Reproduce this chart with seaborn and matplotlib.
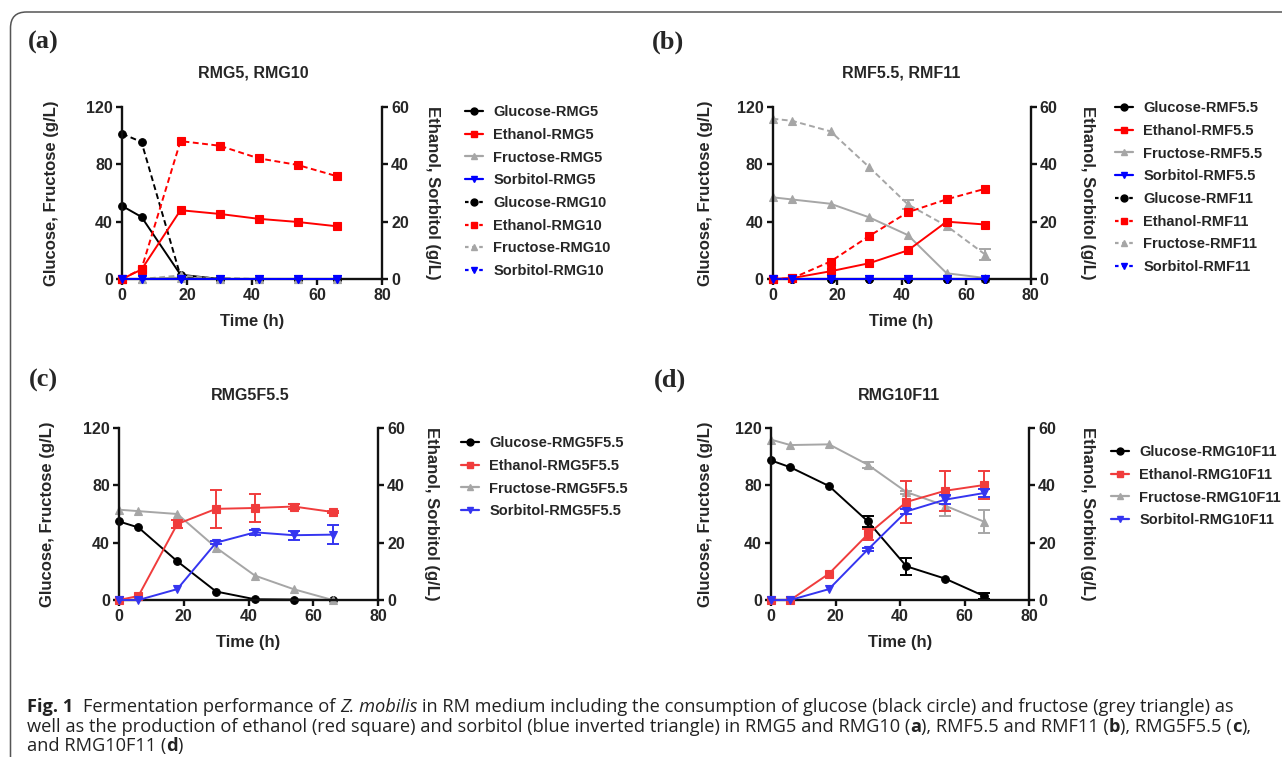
import matplotlib
matplotlib.use("Agg")
import matplotlib.pyplot as plt
import seaborn as sns
import numpy as np
from matplotlib.patches import FancyBboxPatch
from matplotlib.lines import Line2D
from matplotlib.transforms import IdentityTransform

# ---------------- data ----------------
time_h = [0, 6, 18, 30, 42, 54, 66]

# (a) RMG5, RMG10
glucose_rmg5 = [51, 43.3, 3.0, 0, 0, 0, 0]
ethanol_rmg5 = [0, 3.3, 24.0, 22.7, 21.0, 19.9, 18.4]
fructose_rmg5 = [0, 0, 1.0, 0, 0, 0, 0]
sorbitol_rmg5 = [0, 0, 0, 0, 0, 0, 0]
glucose_rmg10 = [101.4, 95.6, 2.0, 0.3, 0, 0, 0]
ethanol_rmg10 = [0, 3.5, 48.1, 46.5, 42.1, 39.8, 35.9]
fructose_rmg10 = [0, 0, 2.5, 0, 0, 0, 0]
sorbitol_rmg10 = [0, 0, 0, 0, 0, 0, 0]

# (b) RMF5.5, RMF11
glucose_rmf55 = [0, 0, 0, 0, 0, 0, 0]
ethanol_rmf55 = [0, 0.3, 2.7, 5.5, 10.0, 20.0, 19.0]
fructose_rmf55 = [57, 55.5, 52.5, 43, 30.6, 4, 0.7]
sorbitol_rmf55 = [0, 0, 0, 0, 0, 0, 0]
glucose_rmf11 = [0, 0, 0, 0, 0, 0, 0]
ethanol_rmf11 = [0, 0.2, 6.1, 15.0, 23.3, 27.8, 31.5]
fructose_rmf11 = [111.8, 110.4, 103, 78, 52, 37, 17]
fructose_rmf11_err = [0, 0, 0, 0, 3, 0, 4]
sorbitol_rmf11 = [0, 0, 0, 0, 0, 0, 0]

# (c) RMG5F5.5
glucose_c = [54.8, 50.6, 27, 5.9, 0.5, 0.3, 0]
ethanol_c = [0, 1.4, 26.5, 31.8, 32.1, 32.6, 30.7]
ethanol_c_err = [0, 0, 1.5, 6.7, 5.0, 1.0, 0.5]
fructose_c = [63, 62, 60, 36.5, 17, 7.5, 0]
sorbitol_c = [0, 0, 3.8, 20, 23.6, 22.6, 22.8]
sorbitol_c_err = [0, 0, 0, 0.5, 0.8, 1.6, 3.3]

# (d) RMG10F11
glucose_d = [97.4, 92.6, 79.5, 54.9, 23.5, 14.9, 2.8]
glucose_d_err = [0, 0, 0, 4.0, 5.8, 0, 2.0]
fructose_d = [111.9, 108.1, 108.6, 94.4, 75.3, 65.8, 54.7]
fructose_d_err = [0, 0, 0, 2.0, 1.0, 6.9, 8.1]
ethanol_d = [0, 0, 9.2, 22.9, 34.2, 38.1, 40.1]
ethanol_d_err = [0, 0, 0, 2.0, 7.4, 7.0, 4.8]
sorbitol_d = [0, 0, 3.8, 17.6, 30.9, 35.0, 37.3]
sorbitol_d_err = [0, 0, 0, 0.5, 1.0, 1.5, 1.5]

titles = ["RMG5, RMG10", "RMF5.5, RMF11", "RMG5F5.5", "RMG10F11"]
panel_tags = ["(a)", "(b)", "(c)", "(d)"]
left_label = "Glucose, Fructose (g/L)"
right_label = "Ethanol, Sorbitol (g/L)"
x_label = "Time (h)"
x_ticks = [0, 20, 40, 60, 80]
left_ticks = [0, 40, 80, 120]
right_ticks = [0, 20, 40, 60]

# ---------------- style ----------------
sns.set_theme(style="ticks")
plt.rcParams["font.family"] = ["Liberation Sans", "DejaVu Sans"]
plt.rcParams["font.weight"] = "bold"
plt.rcParams["axes.labelweight"] = "bold"

W, H = 1282, 757
fig = plt.figure(figsize=(W / 100, H / 100), dpi=100)
fig.patch.set_facecolor("white")

BLACK, GREY = "#000000", "#a6a6a6"
RED_AB, BLUE_AB = "#ff0000", "#0000ff"
RED_CD, BLUE_CD = "#f03c3c", "#3535f0"
DASH = (0, (3.0, 1.8))
LEG_DASH = (0, (1.6, 1.6))


def px_axes(left, top, right, bottom):
    return fig.add_axes([left / W, 1 - bottom / H, (right - left) / W, (bottom - top) / H])


def style_axes(ax, ax2, lab_l, lab_r):
    ax.set_xlim(0, 80)
    ax.set_ylim(0, 120)
    ax2.set_ylim(0, 60)
    ax.set_xticks(x_ticks)
    ax.set_yticks(left_ticks)
    ax2.set_yticks(right_ticks)
    for s in ["top", "right"]:
        ax.spines[s].set_visible(False)
    for s in ["top", "left", "bottom"]:
        ax2.spines[s].set_visible(False)
    for a in (ax, ax2):
        for sp in a.spines.values():
            sp.set_linewidth(1.7)
            sp.set_color("#111111")
        a.tick_params(axis="both", width=1.7, length=4.5, labelsize=11.5,
                      color="#111111", pad=2)
        for lbl in a.get_xticklabels() + a.get_yticklabels():
            lbl.set_fontweight("bold")
    ax2.tick_params(axis="x", bottom=False, labelbottom=False)
    ax.set_xlabel(x_label, fontsize=12, fontweight="bold")
    ax.xaxis.set_label_coords(0.5, -0.205)
    ax.set_ylabel(left_label, fontsize=12, fontweight="bold")
    ax.yaxis.set_label_coords(lab_l, 0.5)
    ax2.set_ylabel(right_label, fontsize=12, fontweight="bold", rotation=270, va="center")
    ax2.yaxis.set_label_coords(lab_r, 0.5)
    ax.set_facecolor("none")
    ax2.set_facecolor("none")


def series(ax, y, color, marker, ms, ls, label, err=None):
    sns.lineplot(x=time_h, y=y, ax=ax, color=color, marker=marker, markersize=ms,
                 markeredgecolor=color, markeredgewidth=0.8, linewidth=1.4,
                 linestyle=ls, legend=False, errorbar=None)
    line = ax.lines[-1]
    line.set_linestyle(ls)
    line.set_clip_on(False)
    line.set_label(label)
    if err is not None:
        xs = [t for t, e in zip(time_h, err) if e > 0]
        ys = [v for v, e in zip(y, err) if e > 0]
        es = [e for e in err if e > 0]
        ax.errorbar(xs, ys, yerr=es, fmt="none", ecolor=color, elinewidth=1.4,
                    capsize=4, capthick=1.4, clip_on=False)
    return line


def legend_at(lines, x_px, y_top_px):
    proxies = []
    for ln in lines:
        ls = ln.get_linestyle()
        dashed = ls not in ("-", "solid")
        proxies.append(Line2D([], [], color=ln.get_color(), marker=ln.get_marker(),
                              markersize=5.0, markeredgecolor=ln.get_color(),
                              linewidth=1.6, linestyle=LEG_DASH if dashed else "-",
                              label=ln.get_label()))
    leg = fig.legend(handles=proxies, loc="upper left",
                     bbox_to_anchor=(x_px / W, 1 - y_top_px / H),
                     bbox_transform=fig.transFigure, frameon=False,
                     prop={"weight": "bold", "size": 10.5}, handlelength=1.25,
                     handletextpad=0.7, labelspacing=0.6, borderpad=0,
                     borderaxespad=0, numpoints=1)
    return leg


def text_px(x, y, s, **kw):
    return fig.text(x / W, 1 - y / H, s, **kw)


# ---------------- panel a ----------------
ax = px_axes(122, 107, 382, 279)
ax2 = ax.twinx()
h = []
h.append(series(ax, glucose_rmg5, BLACK, "o", 5.5, "-", "Glucose-RMG5"))
h.append(series(ax2, ethanol_rmg5, RED_AB, "s", 5.5, "-", "Ethanol-RMG5"))
h.append(series(ax, fructose_rmg5, GREY, "^", 5.5, "-", "Fructose-RMG5"))
h.append(series(ax2, sorbitol_rmg5, BLUE_AB, "v", 5.5, "-", "Sorbitol-RMG5"))
h.append(series(ax, glucose_rmg10, BLACK, "o", 5.5, DASH, "Glucose-RMG10"))
h.append(series(ax2, ethanol_rmg10, RED_AB, "s", 5.5, DASH, "Ethanol-RMG10"))
h.append(series(ax, fructose_rmg10, GREY, "^", 5.5, DASH, "Fructose-RMG10"))
h.append(series(ax2, sorbitol_rmg10, BLUE_AB, "v", 5.5, DASH, "Sorbitol-RMG10"))
style_axes(ax, ax2, -0.242, 1.196)
legend_at(h, 465, 105)
text_px(253, 73, titles[0], ha="center", va="center", fontsize=11.5, fontweight="bold")

# ---------------- panel b ----------------
ax = px_axes(772.5, 107, 1030.5, 279)
ax2 = ax.twinx()
h = []
h.append(series(ax, glucose_rmf55, BLACK, "o", 5.5, "-", "Glucose-RMF5.5"))
h.append(series(ax2, ethanol_rmf55, RED_AB, "s", 5.5, "-", "Ethanol-RMF5.5"))
h.append(series(ax, fructose_rmf55, GREY, "^", 5.5, "-", "Fructose-RMF5.5"))
h.append(series(ax2, sorbitol_rmf55, BLUE_AB, "v", 5.5, "-", "Sorbitol-RMF5.5"))
h.append(series(ax, glucose_rmf11, BLACK, "o", 5.5, DASH, "Glucose-RMF11"))
h.append(series(ax2, ethanol_rmf11, RED_AB, "s", 5.5, DASH, "Ethanol-RMF11"))
h.append(series(ax, fructose_rmf11, GREY, "^", 5.5, DASH, "Fructose-RMF11", fructose_rmf11_err))
h.append(series(ax2, sorbitol_rmf11, BLUE_AB, "v", 5.5, DASH, "Sorbitol-RMF11"))
style_axes(ax, ax2, -0.231, 1.219)
legend_at(h, 1115, 101)
text_px(901, 73, titles[1], ha="center", va="center", fontsize=11.5, fontweight="bold")

# ---------------- panel c ----------------
ax = px_axes(119, 428, 378, 600)
ax2 = ax.twinx()
h = []
h.append(series(ax, glucose_c, BLACK, "o", 5.5, "-", "Glucose-RMG5F5.5"))
h.append(series(ax2, ethanol_c, RED_CD, "s", 5.5, "-", "Ethanol-RMG5F5.5", ethanol_c_err))
h.append(series(ax, fructose_c, GREY, "^", 5.5, "-", "Fructose-RMG5F5.5"))
h.append(series(ax2, sorbitol_c, BLUE_CD, "v", 5.5, "-", "Sorbitol-RMG5F5.5", sorbitol_c_err))
style_axes(ax, ax2, -0.247, 1.205)
legend_at(h, 461, 436)
text_px(250, 395, titles[2], ha="center", va="center", fontsize=11.5, fontweight="bold")

# ---------------- panel d ----------------
ax = px_axes(771, 428, 1029, 600)
ax2 = ax.twinx()
h = []
h.append(series(ax, glucose_d, BLACK, "o", 5.5, "-", "Glucose-RMG10F11", glucose_d_err))
h.append(series(ax2, ethanol_d, RED_CD, "s", 5.5, "-", "Ethanol-RMG10F11", ethanol_d_err))
h.append(series(ax, fructose_d, GREY, "^", 5.5, "-", "Fructose-RMG10F11", fructose_d_err))
h.append(series(ax2, sorbitol_d, BLUE_CD, "v", 5.5, "-", "Sorbitol-RMG10F11", sorbitol_d_err))
style_axes(ax, ax2, -0.225, 1.225)
legend_at(h, 1111, 445)
text_px(899, 395, titles[3], ha="center", va="center", fontsize=11.5, fontweight="bold")

# ---------------- panel tags ----------------
tag_pos = [(43, 42), (668, 42), (43, 380), (670, 380)]
for tag, (x, y) in zip(panel_tags, tag_pos):
    text_px(x, y, tag, ha="center", va="center", fontsize=19,
            family=["Liberation Serif", "DejaVu Serif"], fontweight="bold")

# ---------------- border ----------------
box = FancyBboxPatch((10.5, -60), 1400, 745 + 60, boxstyle="round,pad=0,rounding_size=16",
                     transform=IdentityTransform(), fill=False, edgecolor="#555555",
                     linewidth=1.1)
fig.patches.append(box)
box.set_figure(fig)

# ---------------- caption ----------------
renderer = fig.canvas.get_renderer()
CAP_FAMILY = ["Open Sans", "Noto Sans", "DejaVu Sans"]

line1 = [("Fig. 1", "bold"), ("  ", "sp"), ("Fermentation performance of", "normal"), (" ", "sp"),
         ("Z. mobilis", "italic"), (" ", "sp"),
         ("in RM medium including the consumption of glucose (black circle) and fructose (grey triangle) as", "normal")]
line2 = [("well as the production of ethanol (red square) and sorbitol (blue inverted triangle) in RMG5 and RMG10 (", "normal"),
         ("a", "bold"), ("), RMF5.5 and RMF11 (", "normal"), ("b", "bold"), ("), RMG5F5.5 (", "normal"),
         ("c", "bold"), ("),", "normal")]
line3 = [("and RMG10F11 (", "normal"), ("d", "bold"), (")", "normal")]


def make_text(s, style, size, x=0, y=0):
    kw = dict(fontsize=size, family=CAP_FAMILY, fontweight="normal", fontstyle="normal",
              va="baseline", ha="left", color="#222222")
    if style == "bold":
        kw["fontweight"] = "bold"
    if style == "italic":
        kw["fontstyle"] = "italic"
    return fig.text(x / W, 1 - y / H, s, **kw)


def space_width(s, size):
    a = make_text("x" + s + "x", "normal", size)
    b = make_text("xx", "normal", size)
    w = a.get_window_extent(renderer).width - b.get_window_extent(renderer).width
    a.remove(); b.remove()
    return w


def run_width(runs, size):
    total = 0
    for s, st in runs:
        if st == "sp":
            total += space_width(s, size)
        else:
            t = make_text(s, st, size)
            total += t.get_window_extent(renderer).width
            t.remove()
    return total


base = 10.0
wid = max(run_width(line1, base), run_width(line2, base))
cap_size = base * 1228.0 / wid


def draw_runs(runs, x0, ybase, size):
    x = x0
    for s, st in runs:
        if st == "sp":
            x += space_width(s, size)
        else:
            t = make_text(s, st, size, x, ybase)
            x += t.get_window_extent(renderer).width


draw_runs(line1, 27, 712, cap_size)
draw_runs(line2, 27, 732, cap_size)
draw_runs(line3, 27, 751, cap_size)

fig.savefig("out.png", dpi=100, facecolor="white")
